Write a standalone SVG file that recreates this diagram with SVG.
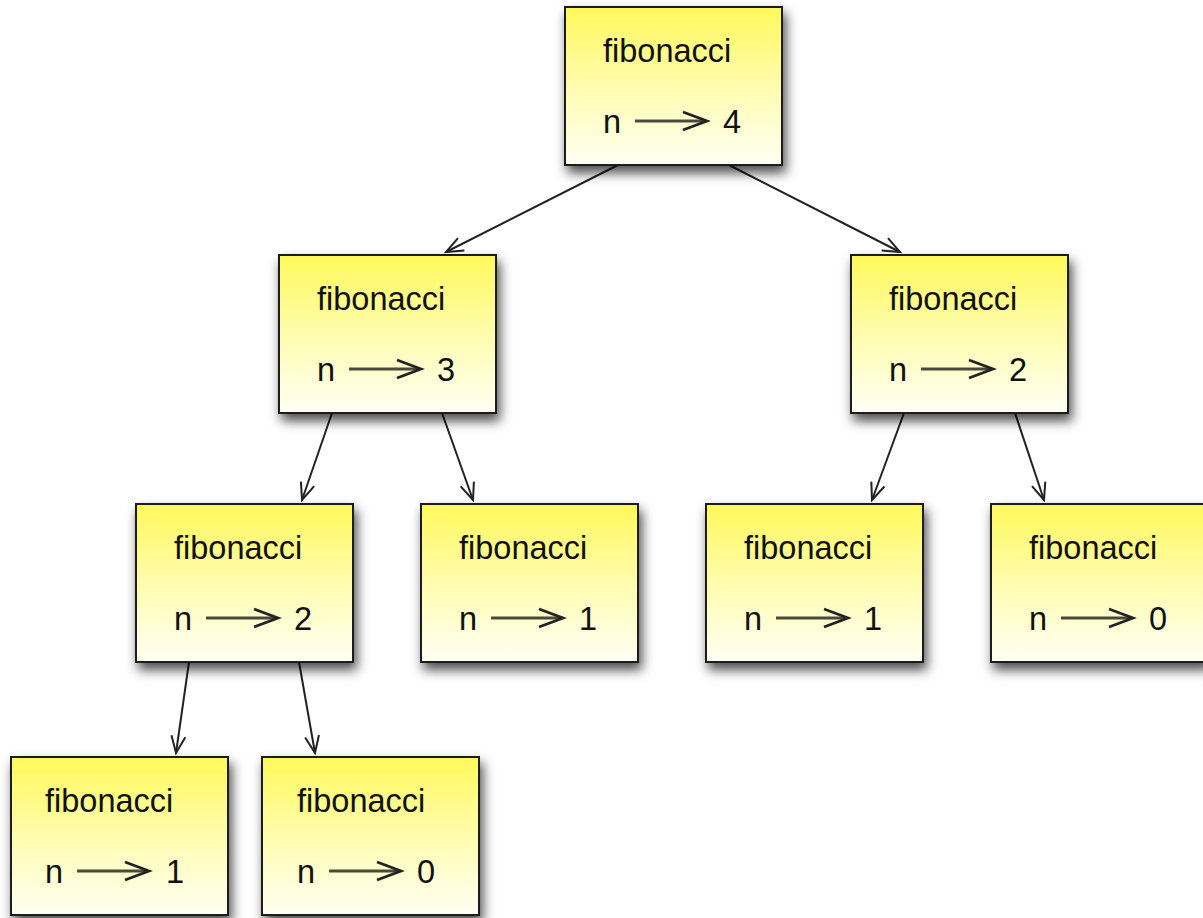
<svg xmlns="http://www.w3.org/2000/svg" width="1203" height="918" viewBox="0 0 1203 918">
<style>
.box{fill:url(#yg);stroke:#1a1a1a;stroke-width:2;filter:url(#sh)}
.t{font-family:"Liberation Sans",Arial,Helvetica,sans-serif;font-size:32.5px;fill:#111}
.ia{fill:none;stroke:#4a4a3a;stroke-width:3}
.ih{fill:none;stroke:#222;stroke-width:2.8;stroke-linejoin:miter}
.c{fill:none;stroke:#222;stroke-width:2;marker-end:url(#ah)}
</style>
<defs>
<linearGradient id="yg" x1="0" y1="0" x2="0" y2="1">
<stop offset="0" stop-color="#fff95a"/>
<stop offset="0.5" stop-color="#fffcae"/>
<stop offset="1" stop-color="#fffff4"/>
</linearGradient>
<filter id="sh" x="-20%" y="-20%" width="150%" height="150%">
<feDropShadow dx="3" dy="7" stdDeviation="6" flood-color="#000" flood-opacity="0.7"/>
</filter>
<marker id="ah" markerUnits="userSpaceOnUse" markerWidth="22" markerHeight="22" viewBox="0 0 22 22" refX="19" refY="11" orient="auto">
<path d="M2,4 L19,11 L2,18" fill="none" stroke="#222" stroke-width="2"/>
</marker>
</defs>
<g id="connectors">
<line class="c" x1="618" y1="165" x2="446" y2="252"/>
<line class="c" x1="729" y1="165" x2="900" y2="252"/>
<line class="c" x1="332" y1="413" x2="302" y2="500"/>
<line class="c" x1="442" y1="413" x2="473" y2="500"/>
<line class="c" x1="904" y1="413" x2="872" y2="500"/>
<line class="c" x1="1015" y1="413" x2="1044" y2="500"/>
<line class="c" x1="189" y1="662" x2="176" y2="753"/>
<line class="c" x1="299" y1="662" x2="315" y2="753"/>
</g>
<g id="n4" transform="translate(565,7)">
<rect class="box" width="217" height="158"/>
<text class="t" x="38" y="55">fibonacci</text>
<text class="t" x="38" y="126">n</text>
<path class="ia" d="M70,114 H139"/><path class="ih" d="M118,105 L142,114 L118,123"/>
<text class="t" x="158" y="126">4</text>
</g>
<g id="n3" transform="translate(279,255)">
<rect class="box" width="217" height="158"/>
<text class="t" x="38" y="55">fibonacci</text>
<text class="t" x="38" y="126">n</text>
<path class="ia" d="M70,114 H139"/><path class="ih" d="M118,105 L142,114 L118,123"/>
<text class="t" x="158" y="126">3</text>
</g>
<g id="n2r" transform="translate(851,255)">
<rect class="box" width="217" height="158"/>
<text class="t" x="38" y="55">fibonacci</text>
<text class="t" x="38" y="126">n</text>
<path class="ia" d="M70,114 H139"/><path class="ih" d="M118,105 L142,114 L118,123"/>
<text class="t" x="158" y="126">2</text>
</g>
<g id="n2l" transform="translate(136,504)">
<rect class="box" width="217" height="158"/>
<text class="t" x="38" y="55">fibonacci</text>
<text class="t" x="38" y="126">n</text>
<path class="ia" d="M70,114 H139"/><path class="ih" d="M118,105 L142,114 L118,123"/>
<text class="t" x="158" y="126">2</text>
</g>
<g id="n1a" transform="translate(421,504)">
<rect class="box" width="217" height="158"/>
<text class="t" x="38" y="55">fibonacci</text>
<text class="t" x="38" y="126">n</text>
<path class="ia" d="M70,114 H139"/><path class="ih" d="M118,105 L142,114 L118,123"/>
<text class="t" x="158" y="126">1</text>
</g>
<g id="n1b" transform="translate(706,504)">
<rect class="box" width="217" height="158"/>
<text class="t" x="38" y="55">fibonacci</text>
<text class="t" x="38" y="126">n</text>
<path class="ia" d="M70,114 H139"/><path class="ih" d="M118,105 L142,114 L118,123"/>
<text class="t" x="158" y="126">1</text>
</g>
<g id="n0a" transform="translate(991,504)">
<rect class="box" width="217" height="158"/>
<text class="t" x="38" y="55">fibonacci</text>
<text class="t" x="38" y="126">n</text>
<path class="ia" d="M70,114 H139"/><path class="ih" d="M118,105 L142,114 L118,123"/>
<text class="t" x="158" y="126">0</text>
</g>
<g id="n1c" transform="translate(11,757)">
<rect class="box" width="217" height="158"/>
<text class="t" x="34" y="55">fibonacci</text>
<text class="t" x="34" y="126">n</text>
<path class="ia" d="M66,114 H135"/><path class="ih" d="M114,105 L138,114 L114,123"/>
<text class="t" x="155" y="126">1</text>
</g>
<g id="n0b" transform="translate(262,757)">
<rect class="box" width="217" height="158"/>
<text class="t" x="35" y="55">fibonacci</text>
<text class="t" x="35" y="126">n</text>
<path class="ia" d="M67,114 H136"/><path class="ih" d="M115,105 L139,114 L115,123"/>
<text class="t" x="155" y="126">0</text>
</g>
</svg>
